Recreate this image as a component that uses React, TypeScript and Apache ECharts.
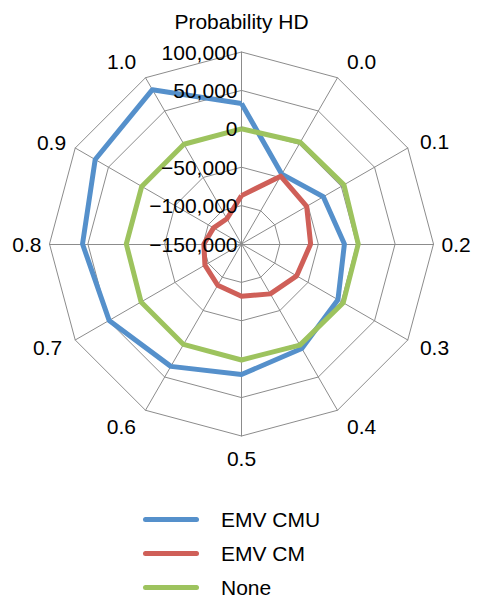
import React, { useEffect, useRef } from 'react';
import * as echarts from 'echarts';

// Categories clockwise from the top spoke
const categories = ['Probability HD', '0.0', '0.1', '0.2', '0.3', '0.4', '0.5', '0.6', '0.7', '0.8', '0.9', '1.0'];
const emvCmu = [33000, -45000, -27000, -16000, -5000, 7000, 20000, 34000, 49000, 57000, 70000, 82000];
const emvCm = [-87000, -48000, -52000, -60000, -67000, -75000, -82000, -88000, -95000, -101000, -108000, -112000];
const noneVals = [0, 3000, 4000, 2000, 3000, 2000, 1000, 1000, 1000, 0, 0, 0];
const seriesNames = ['EMV CMU', 'EMV CM', 'None'];
const seriesColors = ['#5590CB', '#CF5F58', '#9DC35E'];
const axisMin = -150000;
const axisMax = 100000;
const axisSplits = 5;

const FONT = "'Liberation Sans', Arial, Helvetica, sans-serif";

// name gap per spoke (clockwise order)
const nameGaps = [20, 19, 14, 8, 14, 19, 12, 19, 15, 8, 10.5, 18.5];

// ECharts lays radar indicators out counter-clockwise; reorder to get clockwise order
const ccw = <T,>(arr: T[]): T[] => [arr[0], ...arr.slice(1).reverse()];

const fmt = (v: number) => (v < 0 ? '\u2212' : '') + Math.abs(v).toLocaleString('en-US');

export default function App() {
  const ref = useRef<HTMLDivElement>(null);
  useEffect(() => {
    if (!ref.current) return;
    const chart = echarts.init(ref.current, undefined, { renderer: 'svg' });
    const cats = ccw(categories);
    const gaps = ccw(nameGaps);
    const center = [241.5, 244];
    const radius = 192;
    chart.setOption({
      animation: false,
      backgroundColor: '#ffffff',
      textStyle: { fontFamily: FONT },
      legend: {
        orient: 'vertical',
        left: 143,
        top: 509,
        height: 120,
        padding: 0,
        itemWidth: 56,
        itemHeight: 5,
        itemGap: 13,
        icon: 'path://M2.5,0 H53.5 A2.5,2.5 0 0 1 53.5,5 H2.5 A2.5,2.5 0 0 1 2.5,0 Z',
        textStyle: { fontSize: 21, color: '#000', fontFamily: FONT, padding: [0, 0, 0, 17] },
        data: seriesNames,
      },
      radar: [
        {
          center,
          radius,
          startAngle: 90,
          splitNumber: axisSplits,
          shape: 'polygon',
          z: 0,
          axisName: { color: '#000', fontSize: 21, fontFamily: FONT },
          nameGap: 12,
          axisLine: { lineStyle: { color: '#8c8c8c', width: 1 } },
          splitLine: { lineStyle: { color: '#8c8c8c', width: 1 } },
          splitArea: { show: false },
          axisLabel: { show: false },
          axisTick: { show: false },
          indicator: cats.map((c, i) => ({
            name: c,
            min: axisMin,
            max: axisMax,
            nameGap: gaps[i],
          })),
        },
        {
          center,
          radius,
          startAngle: 90,
          splitNumber: axisSplits,
          shape: 'polygon',
          z: 10,
          axisName: { show: false },
          axisLine: { show: false },
          splitLine: { show: false },
          splitArea: { show: false },
          axisTick: { show: false },
          axisLabel: { show: false },
          indicator: cats.map((c, i) => ({
            name: '',
            min: axisMin,
            max: axisMax,
            ...(i === 0
              ? {
                  axisLabel: {
                    show: true,
                    color: '#000',
                    fontSize: 21,
                    fontFamily: FONT,
                    margin: 4,
                    formatter: (v: number) => fmt(v),
                  },
                }
              : {}),
          })),
        },
      ],
      series: [
        {
          type: 'radar',
          radarIndex: 0,
          symbol: 'none',
          z: 2,
          data: [emvCmu, emvCm, noneVals].map((vals, k) => ({
            name: seriesNames[k],
            value: ccw(vals),
            itemStyle: { color: seriesColors[k] },
            lineStyle: { color: seriesColors[k], width: 5, join: 'round' },
          })),
        },
      ],
    });
    return () => chart.dispose();
  }, []);
  return (
    <div
      ref={ref}
      style={{ position: 'absolute', left: 0, top: 0, width: 478, height: 598 }}
    />
  );
}
